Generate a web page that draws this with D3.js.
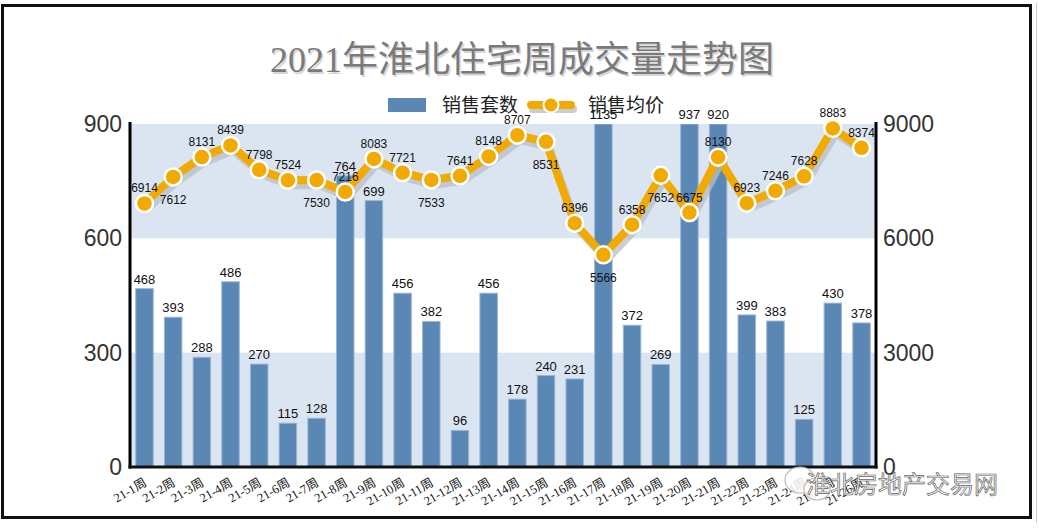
<!DOCTYPE html>
<html>
<head>
<meta charset="utf-8">
<script src="https://cdn.jsdelivr.net/npm/d3@7"></script>
<style>
  html, body { margin: 0; padding: 0; background: #fff; }
  svg { display: block; }
</style>
</head>
<body>
<svg id="chart" width="1038" height="528"></svg>
<script>
const titleText = "2021年淮北住宅周成交量走势图";
const seriesNames = ["销售套数", "销售均价"];
const categories = ["21-1周","21-2周","21-3周","21-4周","21-5周","21-6周","21-7周","21-8周","21-9周","21-10周","21-11周","21-12周","21-13周","21-14周","21-15周","21-16周","21-17周","21-18周","21-19周","21-20周","21-21周","21-22周","21-23周","21-24周","21-25周","21-26周"];
const salesCount = [468,393,288,486,270,115,128,764,699,456,382,96,456,178,240,231,1135,372,269,937,920,399,383,125,430,378];
const avgPrice = [6914,7612,8131,8439,7798,7524,7530,7216,8083,7721,7533,7641,8148,8707,8531,6396,5566,6358,7652,6675,8130,6923,7246,7628,8883,8374];
const leftTicks = [0,300,600,900];
const rightTicks = [0,3000,6000,9000];
const watermarkText = "淮北房地产交易网";

const svg = d3.select("#chart");
const L = 130, R = 876, T = 124, B = 467;

const x = d3.scaleBand().domain(categories).range([L, R]).paddingInner(0.39).paddingOuter(0.2);
const yL = d3.scaleLinear().domain([0, 900]).range([B, T]);
const yR = d3.scaleLinear().domain([0, 9000]).range([B, T]);

const barColor = "#5a87b4";
const bandColor = "#dbe5f1";
const lineColor = "#f2aa00";

// outer frame
svg.append("rect").attr("x", 1036).attr("y", 3).attr("width", 1).attr("height", 520).attr("fill", "#ccc");
svg.append("rect").attr("x", 2.5).attr("y", 5.5).attr("width", 1028).attr("height", 512)
  .attr("fill", "#fff").attr("stroke", "#111").attr("stroke-width", 3);

// title
const titleFont = "'Liberation Serif','Noto Sans CJK SC',serif";
svg.append("text").attr("x", 522 + 1.5).attr("y", 72 + 1.5).attr("text-anchor", "middle")
  .style("font-family", titleFont).style("font-size", "36px")
  .attr("fill", "#d6d6d6").text(titleText);
svg.append("text").attr("x", 522).attr("y", 72).attr("text-anchor", "middle")
  .style("font-family", titleFont).style("font-size", "36px")
  .attr("fill", "#7a7a7a").text(titleText);

// background bands
const bands = [[0, 300], [600, 900]];
svg.append("g").selectAll("rect").data(bands).join("rect")
  .attr("x", L).attr("width", R - L)
  .attr("y", d => yL(d[1])).attr("height", d => yL(d[0]) - yL(d[1]))
  .attr("fill", bandColor);

// clip
svg.append("clipPath").attr("id", "plotClip").append("rect")
  .attr("x", L).attr("y", T).attr("width", R - L).attr("height", B - T);

// bars
svg.append("g").attr("clip-path", "url(#plotClip)").selectAll("rect").data(salesCount).join("rect")
  .attr("x", (d, i) => x(categories[i]))
  .attr("width", x.bandwidth())
  .attr("y", d => yL(Math.min(d, 900)))
  .attr("height", d => B - yL(Math.min(d, 900)))
  .attr("fill", barColor)
  .attr("stroke", "#9bb7d6").attr("stroke-width", 1);

// bar labels
svg.append("g").selectAll("text").data(salesCount).join("text")
  .attr("x", (d, i) => x(categories[i]) + x.bandwidth() / 2)
  .attr("y", d => yL(Math.min(d, 900)) - 5)
  .attr("text-anchor", "middle")
  .style("font-family", "Arial, 'Liberation Sans', sans-serif").style("font-size", "13px")
  .attr("fill", "#111").text(d => d);

// axes lines
const axisG = svg.append("g");
axisG.append("line").attr("x1", L).attr("x2", L).attr("y1", T - 2).attr("y2", B + 1.5).attr("stroke", "#000").attr("stroke-width", 3);
axisG.append("line").attr("x1", R).attr("x2", R).attr("y1", T - 2).attr("y2", B + 1.5).attr("stroke", "#000").attr("stroke-width", 3);
axisG.append("line").attr("x1", L - 1.5).attr("x2", R + 1.5).attr("y1", B).attr("y2", B).attr("stroke", "#111").attr("stroke-width", 3);

const leftAxis = svg.append("g").attr("transform", `translate(${L},0)`)
  .call(d3.axisLeft(yL).tickValues(leftTicks).tickFormat(d3.format("d")).tickSize(0).tickPadding(8));
leftAxis.select(".domain").remove();
leftAxis.selectAll("text").style("font-family", "Arial, 'Liberation Sans', sans-serif").style("font-size", "23px").attr("fill", "#333");

const rightAxis = svg.append("g").attr("transform", `translate(${R},0)`)
  .call(d3.axisRight(yR).tickValues(rightTicks).tickFormat(d3.format("d")).tickSize(0).tickPadding(7));
rightAxis.select(".domain").remove();
rightAxis.selectAll("text").style("font-family", "Arial, 'Liberation Sans', sans-serif").style("font-size", "23px").attr("fill", "#333");

// x axis
const xAxis = svg.append("g").attr("transform", `translate(0,${B})`)
  .call(d3.axisBottom(x).tickSize(0).tickPadding(0));
xAxis.select(".domain").remove();
xAxis.selectAll("text")
  .style("font-family", "'Liberation Serif','Noto Sans CJK SC',serif").style("font-size", "12.5px")
  .attr("fill", "#111")
  .attr("text-anchor", "end")
  .attr("dy", 0).attr("y", 0)
  .attr("transform", "translate(3,18) rotate(-30)");

// line
const line = d3.line()
  .x((d, i) => x(categories[i]) + x.bandwidth() / 2)
  .y(d => yR(d));
svg.append("path").datum(avgPrice).attr("d", line)
  .attr("transform", "translate(3,5)")
  .attr("fill", "none").attr("stroke", "#b9bec6").attr("stroke-opacity", 0.75)
  .attr("stroke-width", 8).attr("stroke-linejoin", "round");
svg.append("path").datum(avgPrice).attr("d", line)
  .attr("fill", "none").attr("stroke", lineColor)
  .attr("stroke-width", 8).attr("stroke-linejoin", "round");
svg.append("g").selectAll("circle").data(avgPrice).join("circle")
  .attr("cx", (d, i) => x(categories[i]) + x.bandwidth() / 2)
  .attr("cy", d => yR(d))
  .attr("r", 8.5)
  .attr("fill", lineColor).attr("stroke", "#fff").attr("stroke-width", 2.5);

// line labels
const below = new Set([1, 6, 10, 14, 16, 18]);
svg.append("g").selectAll("text").data(avgPrice).join("text")
  .attr("x", (d, i) => x(categories[i]) + x.bandwidth() / 2)
  .attr("y", (d, i) => below.has(i) ? yR(d) + 27 : yR(d) - 11)
  .attr("text-anchor", "middle")
  .style("font-family", "Arial, 'Liberation Sans', sans-serif").style("font-size", "12px")
  .attr("fill", "#111").text(d => d);

// legend
const lg = svg.append("g");
lg.append("rect").attr("x", 388).attr("y", 98).attr("width", 38).attr("height", 14).attr("fill", barColor);
lg.append("text").attr("x", 442).attr("y", 112)
  .style("font-family", "'Noto Sans CJK SC', sans-serif").style("font-size", "19px").attr("fill", "#222").text(seriesNames[0]);
lg.append("line").attr("x1", 533).attr("x2", 573).attr("y1", 109).attr("y2", 109)
  .attr("stroke", "#c9cdd3").attr("stroke-width", 8).attr("stroke-linecap", "round");
lg.append("line").attr("x1", 531).attr("x2", 571).attr("y1", 105).attr("y2", 105)
  .attr("stroke", lineColor).attr("stroke-width", 8).attr("stroke-linecap", "round");
lg.append("circle").attr("cx", 551).attr("cy", 105).attr("r", 7.5)
  .attr("fill", lineColor).attr("stroke", "#fff").attr("stroke-width", 2);
lg.append("text").attr("x", 588).attr("y", 112)
  .style("font-family", "'Noto Sans CJK SC', sans-serif").style("font-size", "19px").attr("fill", "#222").text(seriesNames[1]);

// watermark
const wm = svg.append("g");
wm.append("ellipse").attr("cx", 800).attr("cy", 480).attr("rx", 15).attr("ry", 13)
  .attr("fill", "#fff").attr("fill-opacity", 0.85).attr("stroke", "#bbb").attr("stroke-width", 1.2);
wm.append("ellipse").attr("cx", 817).attr("cy", 489).attr("rx", 13).attr("ry", 11)
  .attr("fill", "#fff").attr("fill-opacity", 0.85).attr("stroke", "#bbb").attr("stroke-width", 1.2);
wm.append("text").attr("x", 806).attr("y", 493)
  .style("font-family", "'Noto Sans CJK SC', sans-serif").style("font-size", "24px")
  .attr("fill", "#f4f4f4").attr("stroke", "#666").attr("stroke-width", 0.7).text(watermarkText);
</script>
</body>
</html>
